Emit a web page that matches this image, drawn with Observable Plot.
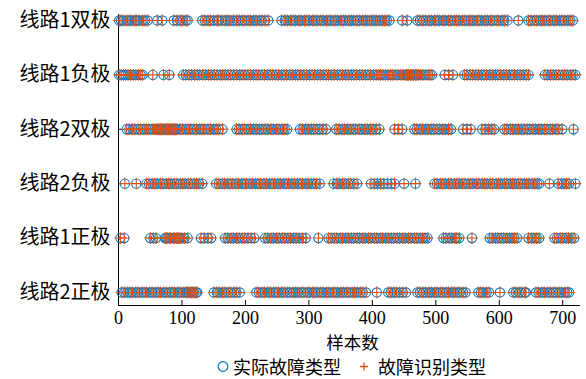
<!DOCTYPE html>
<html><head><meta charset="utf-8">
<script src="https://cdn.jsdelivr.net/npm/d3@7"></script>
<script src="https://cdn.jsdelivr.net/npm/@observablehq/plot@0.6"></script>
<style>
body{margin:0;background:#fff;}
#chart{position:relative;width:586px;height:379px;overflow:hidden;}
.legend{position:absolute;top:355px;left:0;width:586px;height:23px;font-family:"Noto Sans CJK SC",sans-serif;font-size:18px;color:#000;}
.legend span{position:absolute;top:0;line-height:23px;white-space:nowrap;}
.legend svg{position:absolute;top:0;}
</style>
</head><body><div id="chart"></div>
<script>
const categories = ["线路1双极","线路1负极","线路2双极","线路2负极","线路1正极","线路2正极"];
const xTicks = [0,100,200,300,400,500,600,700];
const legendLabels = ["实际故障类型","故障识别类型"];

const row1 = [1,4,8,13,17,21,26,29,33,38,42,46,61,69,87,92,97,101,106,109,
132,136,141,145,150,155,158,163,168,172,176,181,186,190,195,199,204,208,213,217,222,226,231,236,
257,262,266,271,275,279,284,288,293,297,301,306,310,314,319,323,328,332,336,341,345,350,354,358,363,367,371,376,380,385,389,393,398,402,406,411,415,419,423,427,
447,455,471,475,480,484,489,493,498,502,506,511,515,520,524,529,533,537,542,546,551,555,559,564,568,572,577,581,586,590,595,599,604,608,613,
630,646,650,655,659,664,668,672,677,681,686,690,695,699,703,708,712,716];

const row2 = [1,4,8,11,15,19,23,27,31,35,38,54,71,80,
102,106,111,115,120,124,128,133,137,142,146,151,155,160,164,168,173,177,182,186,191,195,199,204,208,213,217,221,226,230,235,239,243,248,252,257,261,265,270,274,279,283,287,292,296,301,305,309,314,318,323,327,331,336,340,345,349,353,358,362,367,371,375,380,384,389,393,397,402,406,410,413,417,421,425,429,432,436,440,444,448,452,454,456,457,460,462,464,465,468,470,472,476,480,484,488,491,494,
514,520,527,545,549,554,558,563,567,572,576,580,585,589,594,598,602,607,611,616,620,624,629,633,638,642,646,
672,676,681,685,690,694,699,703,707,712,716,720];

const row3 = [13,17,22,26,31,35,40,44,48,53,57,60,62,64,66,68,70,73,75,77,79,82,84,86,88,90,92,97,101,106,110,114,119,123,128,132,136,141,145,150,154,158,164,
186,190,195,199,204,208,213,217,222,226,231,235,240,244,249,253,258,262,266,
286,290,295,299,304,308,313,317,322,327,
343,347,352,356,361,365,370,374,379,383,388,392,397,401,406,411,
435,441,447,466,470,475,479,484,488,493,497,502,506,511,515,520,524,
543,549,555,573,578,583,588,592,
608,612,617,621,626,630,635,639,644,648,653,657,662,666,671,675,680,684,689,693,699,717];

const row4 = [10,28,44,48,53,57,61,66,70,75,79,83,88,92,97,101,105,110,114,119,123,127,132,
154,158,163,167,172,176,180,185,189,194,198,202,207,211,216,220,224,229,233,238,242,246,251,255,260,264,268,273,277,282,286,290,295,299,304,308,312,317,
339,344,348,353,357,362,366,371,376,398,403,408,413,418,424,430,435,450,468,
498,502,507,511,515,520,524,529,533,537,542,546,551,555,559,564,568,573,577,581,586,590,595,599,603,608,612,617,621,625,630,634,639,643,647,652,656,660,663,
679,693,698,702,706,710,720];

const row5 = [3,9,50,55,59,73,75,77,80,82,86,88,91,93,95,97,100,104,109,130,135,141,146,
168,172,177,181,186,190,195,199,204,209,214,
231,235,240,244,249,253,258,262,267,271,276,280,285,290,295,315,
331,335,340,344,349,353,358,362,367,371,376,380,385,389,394,398,403,407,412,416,421,425,430,434,439,443,448,452,457,461,466,470,475,479,483,487,
512,516,521,525,530,533,537,557,585,589,594,598,603,607,612,616,620,624,628,
646,651,655,659,663,687,691,696,700,705,709,714,718];

const row6 = [5,9,14,18,22,27,31,36,40,44,49,53,58,62,66,71,75,80,84,88,93,97,102,106,108,110,113,115,117,119,122,124,
150,155,159,164,168,173,177,182,186,191,
217,221,226,230,235,239,244,248,252,257,261,266,270,275,279,283,288,292,297,301,306,310,314,319,323,328,332,337,341,345,350,354,359,363,368,372,376,381,385,390,
407,425,429,434,438,443,448,453,471,475,480,484,489,493,498,502,507,511,516,520,525,529,534,538,543,547,
567,571,575,580,584,601,622,626,631,635,640,642,
658,662,667,671,676,680,685,689,694,698,703,707,710];

const rows = [row1,row2,row3,row4,row5,row6];
const data = [];
rows.forEach((arr,i)=>arr.forEach(s=>data.push({sample:s, cls:i})));

const blue = "#0072BD", red = "#D95319";
const yDomain = [-0.11, 5.24];
const font = "'Liberation Serif','Noto Sans CJK SC',serif";

const plot = Plot.plot({
  width:586, height:379,
  marginLeft:118, marginRight:6, marginTop:14, marginBottom:74,
  style:{fontFamily:font, fontSize:"18px", color:"#000", background:"#fff", overflow:"visible"},
  x:{domain:[0,728]},
  y:{domain:yDomain, reverse:true},
  marks:[
    Plot.ruleX([0], {stroke:"#000", strokeWidth:1}),
    Plot.ruleY([yDomain[1]], {stroke:"#000", strokeWidth:1}),
    Plot.axisX({ticks:xTicks, tickSize:-5, tickPadding:11, fontSize:18, label:null, fontFamily:"'Liberation Serif',serif"}),
    Plot.axisY({ticks:[0,1,2,3,4,5], tickFormat:i=>categories[i], tickSize:-4, tickPadding:12, fontSize:20, label:null, fontFamily:"'Noto Sans CJK SC','Liberation Serif',sans-serif"}),
    Plot.text(["样本数"], {frameAnchor:"bottom", dy:43, dx:3, fontSize:17.5, fontFamily:"'Noto Sans CJK SC',sans-serif"}),
    Plot.dot(data, {x:"sample", y:"cls", r:4.6, stroke:blue, strokeWidth:1.1, fill:"none"}),
    Plot.dot(data, {x:"sample", y:"cls", symbol:"plus", r:3.9, stroke:red, strokeWidth:1.1})
  ]
});
const chart = document.getElementById("chart");
chart.appendChild(plot);
const leg = document.createElement("div");
leg.className = "legend";
leg.innerHTML = `<svg width="12" height="23" style="left:217px"><circle cx="6" cy="11.5" r="4.8" fill="none" stroke="${blue}" stroke-width="1.2"/></svg>
<span style="left:233px">${legendLabels[0]}</span>
<svg width="12" height="23" style="left:358px"><path d="M2,11.5H10M6,7.5V15.5" stroke="${red}" stroke-width="1.3"/></svg>
<span style="left:378px">${legendLabels[1]}</span>`;
chart.appendChild(leg);
</script>
</body></html>
